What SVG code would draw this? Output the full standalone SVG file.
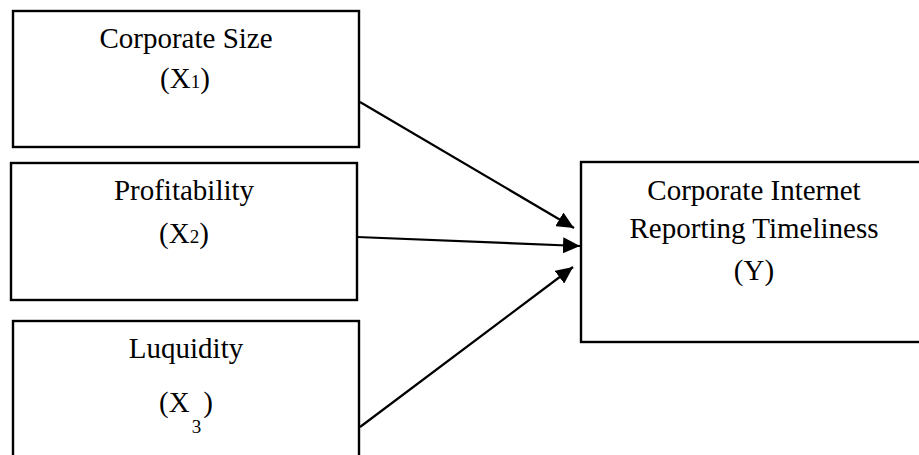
<svg xmlns="http://www.w3.org/2000/svg" width="919" height="455" viewBox="0 0 919 455">
<style>
.box{fill:#fff;stroke:#000;stroke-width:2.4}
.lbl{font-family:"Liberation Serif","Times New Roman",serif;font-size:29px;fill:#000;text-anchor:middle}
.sub{font-size:19px}
.conn{stroke:#000;stroke-width:2.2;fill:none;marker-end:url(#ah)}
</style>
<defs>
<marker id="ah" markerUnits="userSpaceOnUse" markerWidth="18" markerHeight="16" refX="17" refY="8" orient="auto">
<path d="M0,0 L17,8 L0,16 Z" fill="#000"/>
</marker>
</defs>
<g id="node-x1">
<rect class="box" x="13" y="11" width="346" height="136"/>
<text class="lbl" x="186" y="48">Corporate Size</text>
<text class="lbl" x="185" y="88">(X<tspan class="sub">1</tspan>)</text>
</g>
<g id="node-x2">
<rect class="box" x="11" y="163" width="346" height="137"/>
<text class="lbl" x="184" y="200">Profitability</text>
<text class="lbl" x="184" y="243">(X<tspan class="sub">2</tspan>)</text>
</g>
<g id="node-x3">
<rect class="box" x="13" y="321" width="346" height="150"/>
<text class="lbl" x="186" y="358">Luquidity</text>
<text class="lbl" x="186" y="412">(X<tspan class="sub" dx="2" dy="21">3</tspan><tspan dx="2" dy="-21">)</tspan></text>
</g>
<g id="node-y">
<rect class="box" x="581" y="162" width="350" height="180"/>
<text class="lbl" x="754" y="200">Corporate Internet</text>
<text class="lbl" x="754" y="238">Reporting Timeliness</text>
<text class="lbl" x="754" y="280">(Y)</text>
</g>
<g id="connectors">
<line class="conn" x1="360" y1="102" x2="574" y2="228"/>
<line class="conn" x1="357" y1="237" x2="580" y2="246"/>
<line class="conn" x1="360" y1="427" x2="573" y2="267"/>
</g>
</svg>
